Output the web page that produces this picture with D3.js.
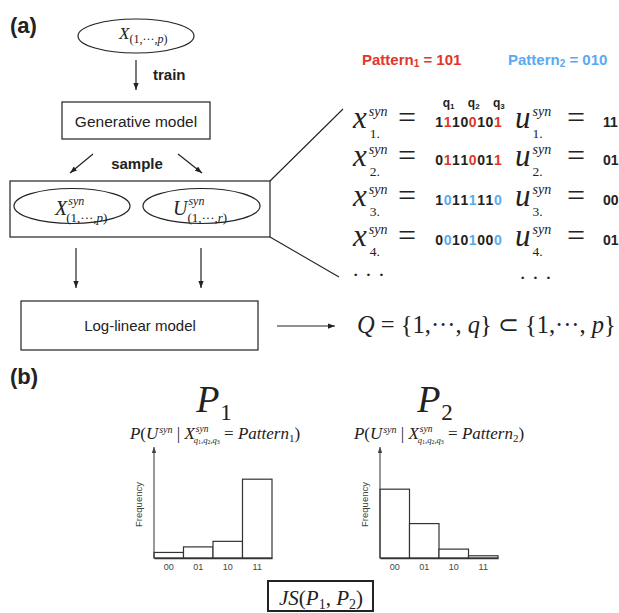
<!DOCTYPE html>
<html><head><meta charset="utf-8">
<script src="https://cdn.jsdelivr.net/npm/d3@7"></script>
<style>html,body{margin:0;padding:0;background:#fff;} svg{display:block}</style>
</head><body><svg id="c" width="619" height="613"></svg>
<script>
// ---------------- data ----------------
const categories = ["00", "01", "10", "11"];
const p1Freq = [0.05, 0.10, 0.15, 0.71];
const p2Freq = [0.62, 0.31, 0.08, 0.02];
const xSyn = ["11100101", "01110011", "10111110", "00101000"];
const uSyn = ["11", "01", "00", "01"];
const rowPattern = [1, 1, 2, 2];
const qIndex = [1, 4, 7];
const qLabels = ["1", "2", "3"];
const patterns = ["101", "010"];

// ---------------- setup ----------------
const SERIF = "'Liberation Serif','Times New Roman',serif";
const SANS = "'Liberation Sans',Arial,Helvetica,sans-serif";
const INK = "#222";
const RED = "#e0362a";
const BLUE = "#5aaaf2";
const svg = d3.select("#c");

const defs = svg.append("defs");
defs.append("marker").attr("id", "arr").attr("viewBox", "0 0 8 6")
  .attr("refX", 8).attr("refY", 3).attr("markerWidth", 7).attr("markerHeight", 5.5)
  .attr("markerUnits", "userSpaceOnUse").attr("orient", "auto")
  .append("path").attr("d", "M0,0L8,3L0,6z").attr("fill", INK);
defs.append("marker").attr("id", "arrS").attr("viewBox", "0 0 8 6")
  .attr("refX", 8).attr("refY", 3).attr("markerWidth", 6).attr("markerHeight", 4.5)
  .attr("markerUnits", "userSpaceOnUse").attr("orient", "auto")
  .append("path").attr("d", "M0,0L8,3L0,6z").attr("fill", "#444");

// rich math layout helper (supports stacked sub/superscript sequences)
function rich(g, x0, y0, parts, anchor) {
  const grp = g.append("g");
  let x = x0, prevStart = x0, prevEnd = x0, subX = x0;
  parts.forEach(p => {
    let sx;
    if (p.stack) sx = prevStart + (p.dx || 0);
    else if (p.cont) sx = subX + (p.dx || 0);
    else sx = x + (p.dx || 0);
    const t = grp.append("text")
      .attr("x", sx).attr("y", y0 + (p.off || 0))
      .attr("font-family", p.sans ? SANS : SERIF)
      .attr("font-size", p.size)
      .attr("font-style", p.it ? "italic" : "normal")
      .attr("font-weight", p.bold ? "bold" : "normal")
      .attr("fill", p.fill || INK)
      .text(p.t.replace(/ /g, "\u00A0"));
    const w = t.node().getComputedTextLength();
    if (p.stack || p.cont) {
      subX = sx + w;
      x = Math.max(prevEnd, subX);
    } else {
      prevStart = sx; prevEnd = sx + w; x = sx + w + (p.gap || 0);
    }
  });
  if (anchor === "middle") grp.attr("transform", `translate(${-(x - x0) / 2},0)`);
  return grp;
}

function line(x1, y1, x2, y2, arrow, w) {
  const l = svg.append("line").attr("x1", x1).attr("y1", y1).attr("x2", x2).attr("y2", y2)
    .attr("stroke", INK).attr("stroke-width", w || 1.2);
  if (arrow) l.attr("marker-end", `url(#${arrow})`);
  return l;
}
function box(x, y, w, h, sw) {
  svg.append("rect").attr("x", x).attr("y", y).attr("width", w).attr("height", h)
    .attr("fill", "none").attr("stroke", INK).attr("stroke-width", sw || 1.2);
}
function ell(cx, cy, rx, ry) {
  svg.append("ellipse").attr("cx", cx).attr("cy", cy).attr("rx", rx).attr("ry", ry)
    .attr("fill", "none").attr("stroke", INK).attr("stroke-width", 1.2);
}
function label(x, y, t, size, bold, anchor, fill) {
  return svg.append("text").attr("x", x).attr("y", y).attr("font-family", SANS)
    .attr("font-size", size).attr("font-weight", bold ? "bold" : "normal")
    .attr("text-anchor", anchor || "start").attr("fill", fill || INK).text(t);
}

// ---------------- panel (a) ----------------
label(10, 33, "(a)", 22, true);

ell(136, 36, 58, 17);
rich(svg, 119, 39, [
  { t: "X", it: true, size: 17 },
  { t: "(1,···,", size: 12, off: 4 },
  { t: "p", it: true, size: 12, off: 4 },
  { t: ")", size: 12, off: 4 }
]);

line(136, 60, 136, 90, "arr");
label(153, 80, "train", 15, true);

box(62, 102, 148, 37);
label(136, 127, "Generative model", 15.5, false, "middle");

line(93, 154, 70, 173, "arr");
line(178, 154, 202, 173, "arr");
label(137, 169, "sample", 15, true, "middle");

box(10, 181, 260, 56);
ell(72, 206, 58, 17.5);
ell(201.5, 206, 58.5, 17.5);
rich(svg, 55, 215, [
  { t: "X", it: true, size: 20 },
  { t: "syn", it: true, size: 12, off: -10, dx: 1 },
  { t: "(1,···,", size: 13, off: 7, stack: true, dx: -2 },
  { t: "p", it: true, size: 13, off: 7, cont: true },
  { t: ")", size: 13, off: 7, cont: true }
]);
rich(svg, 173, 215, [
  { t: "U", it: true, size: 20 },
  { t: "syn", it: true, size: 12, off: -10, dx: 1 },
  { t: "(1,···,", size: 13, off: 7, stack: true, dx: -1 },
  { t: "r", it: true, size: 13, off: 7, cont: true },
  { t: ")", size: 13, off: 7, cont: true }
]);

line(76, 248, 76, 288, "arr");
line(201, 248, 201, 288, "arr");

box(21, 301, 237, 49);
label(140, 331, "Log-linear model", 15, false, "middle");

line(277, 326, 335, 326, "arr");
rich(svg, 357, 333, [
  { t: "Q", it: true, size: 24.5 },
  { t: " = {1,···, ", size: 24.5 },
  { t: "q", it: true, size: 24.5 },
  { t: "} ⊂ {1,···, ", size: 24.5 },
  { t: "p", it: true, size: 24.5 },
  { t: "}", size: 24.5 }
]);

// zoom lines
line(270, 181, 343, 109, null, 1.1);
line(270, 237, 339, 277, null, 1.1);

// pattern labels
[0, 1].forEach(i => {
  const col = i === 0 ? RED : BLUE;
  rich(svg, i === 0 ? 362 : 508, 65, [
    { t: "Pattern", sans: true, bold: true, size: 15, fill: col },
    { t: String(i + 1), sans: true, bold: true, size: 10, off: 2, fill: col },
    { t: " = " + patterns[i], sans: true, bold: true, size: 15, fill: col }
  ]);
});

// digit band scale
const digitX = d3.scaleBand().domain(d3.range(8)).range([435, 502]);
qIndex.forEach((qi, k) => {
  const cx = digitX(qi) + digitX.bandwidth() / 2;
  rich(svg, cx + 1, 107, [
    { t: "q", sans: true, bold: true, size: 12 },
    { t: qLabels[k], sans: true, bold: true, size: 8, off: 2 }
  ], "middle");
});

const rowY = [128, 166, 206, 246];
xSyn.forEach((bits, r) => {
  const y = rowY[r];
  rich(svg, 353, y, [
    { t: "x", it: true, size: 31 },
    { t: "syn", it: true, size: 14, off: -12, dx: 2 },
    { t: (r + 1) + ".", size: 13.5, off: 10, stack: true, dx: 1 }
  ]);
  svg.append("text").attr("x", 398).attr("y", y).attr("font-family", SERIF)
    .attr("font-size", 32).attr("fill", INK).text("=");
  const col = rowPattern[r] === 1 ? RED : BLUE;
  bits.split("").forEach((b, i) => {
    svg.append("text")
      .attr("x", digitX(i) + digitX.bandwidth() / 2).attr("y", y - 1)
      .attr("text-anchor", "middle").attr("font-family", SANS).attr("font-weight", "bold")
      .attr("font-size", 14).attr("fill", qIndex.includes(i) ? col : INK).text(b);
  });
  rich(svg, 515, y, [
    { t: "u", it: true, size: 31 },
    { t: "syn", it: true, size: 14, off: -12, dx: 2 },
    { t: (r + 1) + ".", size: 13.5, off: 10, stack: true, dx: 0 }
  ]);
  svg.append("text").attr("x", 567).attr("y", y).attr("font-family", SERIF)
    .attr("font-size", 32).attr("fill", INK).text("=");
  label(603, y - 1, uSyn[r], 14, true);
});
svg.append("text").attr("x", 352).attr("y", 282).attr("font-family", SERIF)
  .attr("font-size", 22).attr("fill", INK).text("· · ·");
svg.append("text").attr("x", 519).attr("y", 285).attr("font-family", SERIF)
  .attr("font-size", 22).attr("fill", INK).text("· · ·");

// ---------------- panel (b) ----------------
label(10, 384, "(b)", 22, true);

const y = d3.scaleLinear().domain([0, 1]).range([558, 447]);

function hist(x0, x1, values, idx, titleX, formX) {
  const x = d3.scaleBand().domain(categories).range([x0, x1]).paddingInner(0);
  const g = svg.append("g");
  g.selectAll("rect").data(values).join("rect")
    .attr("x", (d, i) => x(categories[i]))
    .attr("y", d => y(d))
    .attr("width", x.bandwidth())
    .attr("height", d => y(0) - y(d))
    .attr("fill", "#fff").attr("stroke", "#333").attr("stroke-width", 1.2);
  const ax = g.append("g").attr("transform", `translate(0,${y(0)})`)
    .call(d3.axisBottom(x).tickSize(0).tickPadding(6));
  ax.select(".domain").attr("stroke", "#333").attr("stroke-width", 1.4);
  ax.selectAll("text").attr("font-family", SANS).attr("font-size", 9).attr("fill", "#444");
  g.append("line").attr("x1", x0).attr("x2", x0).attr("y1", y(0)).attr("y2", y(1))
    .attr("stroke", "#444").attr("stroke-width", 1.1).attr("marker-end", "url(#arrS)");
  g.append("text").attr("transform", `translate(${x0 - 12},${(y(0) + y(1)) / 2 + 2}) rotate(-90)`)
    .attr("text-anchor", "middle").attr("font-family", SANS).attr("font-size", 9.5)
    .attr("fill", "#444").text("Frequency");
  rich(svg, titleX, 412, [
    { t: "P", it: true, size: 38, gap: 1 },
    { t: String(idx), size: 23, off: 8 }
  ], "middle");
  rich(svg, formX, 439, [
    { t: "P", it: true, size: 17 },
    { t: "(", size: 17 },
    { t: "U", it: true, size: 17 },
    { t: "syn", it: true, size: 10, off: -6, dx: 1 },
    { t: " | ", size: 17 },
    { t: "X", it: true, size: 17 },
    { t: "syn", it: true, size: 9.5, off: -7, dx: 1 },
    { t: "q", it: true, size: 8.5, off: 4, stack: true, dx: -2 },
    { t: "1", size: 6, off: 5, cont: true },
    { t: ",q", it: true, size: 8.5, off: 4, cont: true },
    { t: "2", size: 6, off: 5, cont: true },
    { t: ",q", it: true, size: 8.5, off: 4, cont: true },
    { t: "3", size: 6, off: 5, cont: true },
    { t: " = ", size: 17 },
    { t: "Pattern", it: true, size: 17 },
    { t: String(idx), size: 11, off: 3 },
    { t: ")", size: 17 }
  ], "middle");
}
hist(154, 272, p1Freq, 1, 214, 215);
hist(380, 498, p2Freq, 2, 435, 439);

// JS box
box(268, 581, 105, 30, 2);
rich(svg, 321, 605, [
  { t: "JS", it: true, size: 21 },
  { t: "(", size: 21 },
  { t: "P", it: true, size: 21 },
  { t: "1", size: 14, off: 4 },
  { t: ", ", size: 21 },
  { t: "P", it: true, size: 21 },
  { t: "2", size: 14, off: 4 },
  { t: ")", size: 21 }
], "middle");
</script></body></html>
